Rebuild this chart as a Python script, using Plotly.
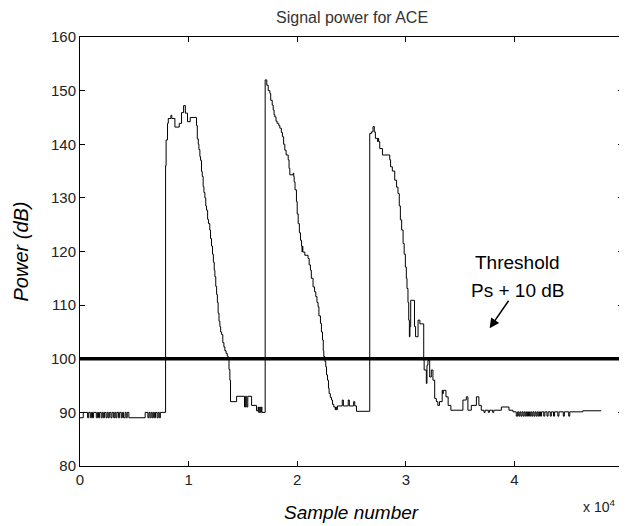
import plotly.graph_objects as go

# ---- data (sample number, power in dB) ----
noise_x = [0, 300, 700, 800, 950, 1050, 1150, 1250, 1500, 1600, 1700, 1800, 1950, 2050, 2150, 2250,
           2400, 2500, 2600, 2700, 2850, 2950, 3100, 3200, 3300, 3400, 3550, 3650, 3800, 3900, 4000,
           4150, 4250, 4350, 4500, 6000, 6250, 6350, 6450, 6550, 6650, 6750, 6850, 6950, 7100, 7200,
           7300, 7400]
noise_y = [89, 90, 89, 90, 89, 90, 89, 90, 89, 90, 89, 90, 89, 90, 89, 90,
           89, 90, 89, 90, 89, 90, 89, 90, 89, 90, 89, 90, 89, 90, 89,
           90, 89, 90, 89, 90, 89, 90, 89, 90, 89, 90, 89, 90, 89, 90,
           89, 90]

burst1_x = [7880, 7930, 8060, 8130, 8370, 8450, 8740, 9140, 9350, 9540, 9700, 9900, 10150, 10730,
            10800, 10890, 10950, 11040, 11100, 11190, 11260, 11340, 11410, 11500, 11580, 11650,
            11750, 11830, 11950, 12020, 12110, 12200, 12280, 12360, 12420, 12500, 12580, 12650,
            12720, 12800, 12880, 12950, 13040, 13150, 13250, 13340, 13450, 13560, 13640, 13720,
            13800, 13860, 14420, 15150, 15250, 15350, 15450, 15800, 16250, 16400, 16450, 16550,
            16600, 16700, 16750, 16850]
burst1_y = [136, 140.8, 143.9, 144.8, 145.4, 144.8, 143.2, 143.9, 145.9, 147.2, 145.8, 144.2, 145.0, 143.5,
            141, 140, 139, 137.7, 137, 134.9, 134, 132.1, 131, 130, 128.5, 127.7,
            126, 125.2, 124, 122.4, 121, 119.5, 118, 116.5, 115.3, 113.5, 112, 110.5,
            108.5, 107, 106, 105, 104.5, 103, 102.2, 101.5, 101, 100.5, 100, 98,
            96, 92, 93, 91, 93, 91, 93, 91.3, 90.3, 91, 90, 91,
            90, 91, 90, 90]

burst2_x = [17050, 17200, 17330, 17480, 17560, 17700, 17790, 17870, 17940, 18050, 18150, 18300, 18400,
            18540, 18640, 18750, 18860, 18980, 19170, 19250, 19320, 19630, 19680, 19720, 19800,
            19930, 20000, 20090, 20200, 20300, 20400, 20450, 20480, 20520, 20700, 21000, 21100,
            21220, 21300, 21460, 21600, 21710, 21820, 21920, 22000, 22140, 22230, 22330, 22400,
            22450, 22550, 22630, 22700, 22790, 22880, 22940, 23050, 23160, 23250, 23370, 23500,
            23550, 23600, 23700, 24150, 24250, 24700, 24800, 25200, 25300, 25460]
burst2_y = [152, 151, 150, 149.5, 148.2, 147.3, 146.4, 145.5, 145.1, 144.3, 143.9, 143.5, 143.0,
            142.2, 141.4, 140, 138.9, 138, 137.1, 135.5, 134.3, 134.6, 134, 133, 131.5,
            129.3, 127, 125.2, 123.5, 122.1, 121, 119.9, 121, 119.9, 119.3, 118.7, 117.5,
            116.5, 115, 113.4, 112.5, 111.6, 110.5, 109.7, 108, 106.6, 105, 103.5, 101.5,
            100.4, 99.5, 98.5, 97, 96, 94.5, 93.5, 92.8, 92.3, 91.5, 91.0, 90.5,
            91, 90.5, 91.2, 92.3, 91.2, 92.3, 91.2, 92.0, 91.2, 90.2]

burst3_x = [26680, 26830, 26980, 27100, 27200, 27400, 27450, 27500, 27600, 27850, 28520, 28600,
            28760, 28980, 29150, 29280, 29400, 29500, 29620, 29750, 29850, 29960, 30050, 30110,
            30200, 30270, 30330, 30380, 30450, 30800, 30900, 31130, 31300, 31650, 31690, 31890,
            31950, 32040, 32200, 32350, 32500, 32660, 32810, 32950, 33100, 33350, 33400, 33450,
            33700, 33900, 34150, 35260, 35570, 35720, 36030, 36500, 36730, 36950, 37200, 37300,
            37600, 37700, 38000, 38100, 38800, 39500, 39870]
burst3_y = [142, 142.3, 143.3, 142.3, 141.1, 140.5, 141.1, 140.5, 139.2, 138, 137.1, 135.8,
            135, 133.3, 132, 130.8, 128.5, 125.9, 124, 121.5, 119.5, 117.1, 115, 113.1,
            110.5, 107.2, 104.1, 106, 110.9, 106, 104.1, 107.2, 106.5, 99.7, 97.9, 95.4,
            98.8, 99.7, 96.6, 97.9, 96, 92.6, 92, 91.3, 92, 94.1, 93.5, 94.1,
            92.9, 91.3, 90.4, 92.3, 92.9, 90.4, 91.3, 92.9, 91.3, 90.4, 90, 90.4,
            90, 90.4, 90, 90.4, 91, 90.4, 90.1]

tail_x = [40170, 40300, 40400, 40500, 40600, 40700, 40800, 40900, 41000, 41100, 41200, 41300,
          41400, 41500, 41600, 41700, 41800, 41900, 42000, 42100, 42200, 42300, 42400, 42500,
          42700, 42800, 43000, 43100, 43300, 43400, 43600, 43700, 44000, 44100, 44500, 44600,
          45000, 45100, 46300, 48000]
tail_y = [89.3, 90.1, 89.3, 90.1, 89.3, 90.1, 89.3, 90.1, 89.3, 90.1, 89.3, 90.1,
          89.3, 90.1, 89.3, 90.1, 89.3, 90.1, 89.3, 90.1, 89.3, 90.1, 89.3, 90.1,
          89.3, 90.1, 89.3, 90.1, 89.3, 90.1, 89.3, 90.1, 89.3, 90.1, 89.3, 90.1,
          89.3, 90.1, 90.3, 90.3]

threshold_db = 100
x_tick_vals = [0, 10000, 20000, 30000, 40000, 50000]
x_tick_text = ["0", "1", "2", "3", "4", "5"]
y_tick_vals = [80, 90, 100, 110, 120, 130, 140, 150, 160]

sample_x = noise_x + burst1_x + burst2_x + burst3_x + tail_x
power_y = noise_y + burst1_y + burst2_y + burst3_y + tail_y

FONT = "Liberation Sans, Arial, Helvetica, sans-serif"

fig = go.Figure()
fig.add_trace(go.Scatter(x=sample_x, y=power_y, mode="lines",
                         line=dict(color="black", width=1, shape="hv"),
                         hoverinfo="skip", showlegend=False))
fig.add_trace(go.Scatter(x=[0, 50000], y=[threshold_db, threshold_db], mode="lines",
                         line=dict(color="black", width=3.5),
                         hoverinfo="skip", showlegend=False))

axis_common = dict(showgrid=False, zeroline=False, showline=True, linecolor="black",
                   linewidth=1, mirror="ticks", ticks="inside", ticklen=5, tickcolor="black",
                   tickfont=dict(family=FONT, size=15, color="#222"))

# page body has an 8px margin, so the figure is sized to fit the 627x526 window
fig.update_layout(
    width=619, height=518,
    margin=dict(l=72, r=4, t=29, b=60, autoexpand=False),
    paper_bgcolor="white", plot_bgcolor="white",
    xaxis=dict(range=[0, 50000], tickvals=x_tick_vals, ticktext=x_tick_text, **axis_common),
    yaxis=dict(range=[80, 160], tickvals=y_tick_vals, **axis_common),
    font=dict(family=FONT, color="black"),
    annotations=[
        dict(text="Signal power for ACE", x=0.5, y=1, xref="paper", yref="paper",
             xanchor="center", yanchor="bottom", yshift=9, showarrow=False,
             font=dict(family=FONT, size=16, color="#333")),
        dict(text="<i>Sample number</i>", x=0.5, y=0, xref="paper", yref="paper",
             xanchor="center", yanchor="middle", yshift=-46, showarrow=False,
             font=dict(family=FONT, size=19, color="black")),
        dict(text="<i>Power (dB)</i>", x=0, y=0.5, xref="paper", yref="paper",
             xanchor="center", yanchor="middle", xshift=-60, textangle=-90, showarrow=False,
             font=dict(family=FONT, size=20, color="black")),
        dict(text="x 10<sup>4</sup>", x=1, y=0, xref="paper", yref="paper",
             xanchor="right", yanchor="middle", xshift=-6, yshift=-40, showarrow=False,
             font=dict(family=FONT, size=14, color="#222")),
        dict(text="Threshold", x=40290, y=117.9, xref="x", yref="y",
             xanchor="center", yanchor="middle", showarrow=False,
             font=dict(family=FONT, size=19, color="black")),
        dict(text="Ps + 10 dB", x=40290, y=112.7, xref="x", yref="y",
             xanchor="center", yanchor="middle", showarrow=False,
             font=dict(family=FONT, size=19, color="black")),
        dict(text="", x=37720, y=105.7, xref="x", yref="y",
             ax=39560, ay=111.1, axref="x", ayref="y",
             showarrow=True, arrowhead=2, arrowsize=1.3, arrowwidth=1.5, arrowcolor="black"),
    ],
)

fig.write_html("out.html")
